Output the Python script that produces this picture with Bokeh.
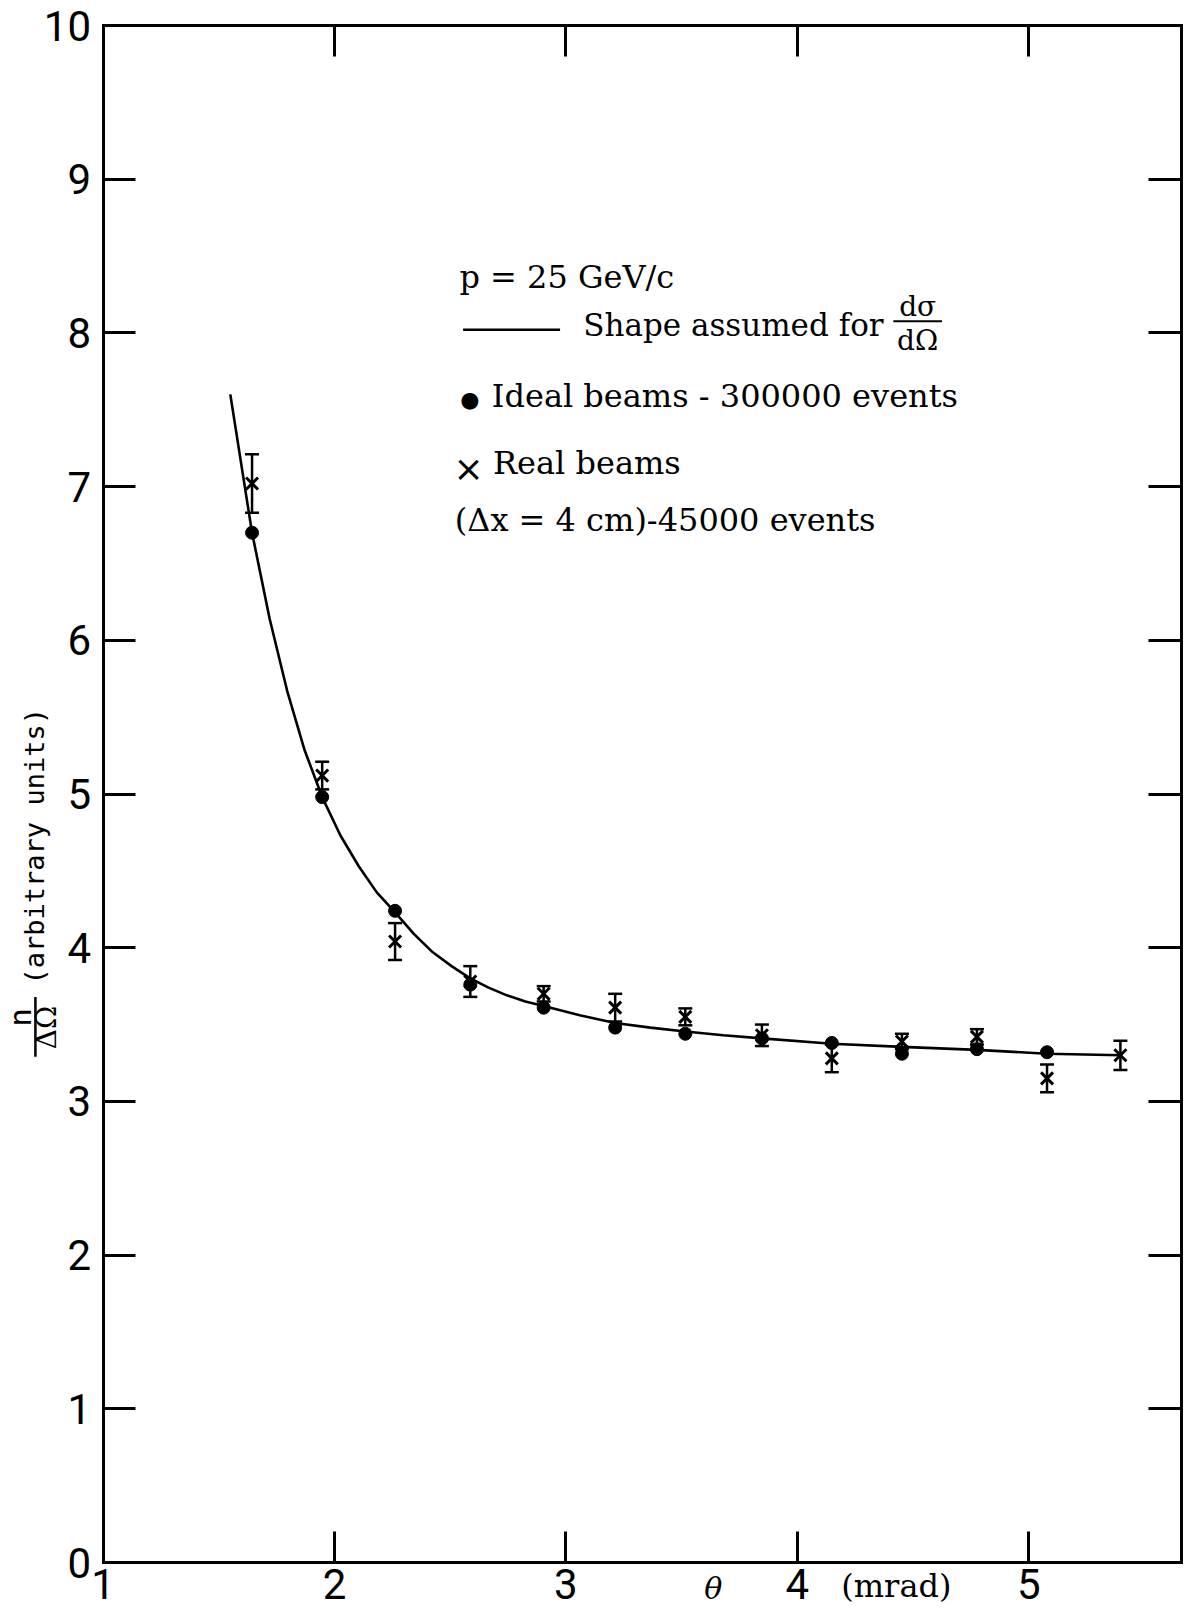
import math
from bokeh.plotting import figure
from bokeh.models import (Range1d, FixedTicker, LinearAxis, Label, Whisker,
                          ColumnDataSource, TeeHead, Arrow)
from bokeh.embed import file_html
from bokeh.resources import INLINE

# ---------------- data ----------------
theta_ideal = [1.644, 1.947, 2.262, 2.587, 2.904, 3.213, 3.516, 3.847, 4.149, 4.452, 4.776, 5.079]
n_ideal = [6.70, 4.98, 4.24, 3.76, 3.61, 3.48, 3.44, 3.41, 3.38, 3.31, 3.34, 3.32]

theta_real = [1.644, 1.947, 2.262, 2.587, 2.904, 3.213, 3.516, 3.847, 4.149, 4.452, 4.776, 5.079, 5.396]
n_real = [7.02, 5.12, 4.04, 3.78, 3.70, 3.61, 3.55, 3.43, 3.28, 3.39, 3.42, 3.15, 3.30]
n_real_err = [0.19, 0.09, 0.12, 0.10, 0.05, 0.09, 0.055, 0.07, 0.09, 0.05, 0.05, 0.09, 0.095]

theta_curve = [1.55, 1.644, 1.72, 1.796, 1.87, 1.947, 2.026, 2.105, 2.183, 2.262, 2.343,
               2.425, 2.506, 2.587, 2.666, 2.745, 2.825, 2.904, 3.06, 3.213, 3.365,
               3.516, 3.68, 3.847, 4.149, 4.452, 4.776, 5.079, 5.40]
n_curve = [7.60, 6.70, 6.14, 5.67, 5.29, 4.98, 4.73, 4.53, 4.36, 4.23, 4.09,
           3.97, 3.88, 3.80, 3.74, 3.69, 3.65, 3.62, 3.56, 3.51, 3.48,
           3.455, 3.43, 3.41, 3.375, 3.355, 3.335, 3.31, 3.30]

x_ticks = [1, 2, 3, 4, 5]
y_ticks = [0, 1, 2, 3, 4, 5, 6, 7, 8, 9, 10]
x_inner_ticks = [2, 3, 4, 5]
y_inner_ticks = [1, 2, 3, 4, 5, 6, 7, 8, 9]

legend_title = "p = 25 GeV/c"
legend_curve = "Shape assumed for"
legend_ideal = "Ideal beams - 300000 events"
legend_real = "Real beams"
legend_real2 = "(\u0394x = 4 cm)-45000 events"

SERIF = "DejaVu Serif"
MONO = "DejaVu Sans Mono"
SANS = "Roboto"

# ---------------- geometry ----------------
W, H = 1190, 1610
X_LO, X_HI = 1.0, 5.66          # visible box in data units
Y_LO, Y_HI = 0.0, 10.0
BOX_LEFT_PX = 102.5             # where x = 1 falls on the canvas
BOX_BOTTOM_PX = 1562            # where y = 0 falls on the canvas
BOX_TOP_PX = 25                 # where y = 10 falls on the canvas
RIGHT_BORDER = 9
px_per_x = (W - RIGHT_BORDER - BOX_LEFT_PX) / (X_HI - X_LO)
px_per_y = (BOX_BOTTOM_PX - BOX_TOP_PX) / (Y_HI - Y_LO)
x_start = X_LO - BOX_LEFT_PX / px_per_x
y_start = Y_LO - (H - BOX_BOTTOM_PX) / px_per_y
y_end = Y_HI + BOX_TOP_PX / px_per_y

p = figure(width=W, height=H,
           x_range=Range1d(x_start, X_HI), y_range=Range1d(y_start, y_end),
           output_backend="svg", toolbar_location=None,
           min_border_left=0, min_border_right=RIGHT_BORDER,
           min_border_top=0, min_border_bottom=0)

p.xgrid.visible = False
p.ygrid.visible = False
p.outline_line_color = None
p.background_fill_color = "white"
p.border_fill_color = "white"


def style_axis(ax, ticks, bounds, tick_len):
    ax.ticker = FixedTicker(ticks=ticks)
    ax.bounds = bounds
    ax.axis_line_color = "black"
    ax.axis_line_width = 3
    ax.axis_line_cap = "square"
    ax.major_tick_in = tick_len
    ax.major_tick_out = 0
    ax.major_tick_line_width = 3
    ax.major_tick_line_color = "black"
    ax.minor_tick_line_color = None
    ax.major_label_text_font = SANS
    ax.major_label_text_font_size = "42px"
    ax.major_label_text_color = "black"


xa = p.xaxis[0]
ya = p.yaxis[0]
style_axis(xa, x_ticks, (X_LO, X_HI), 31)
style_axis(ya, y_ticks, (Y_LO, Y_HI), 32)
xa.fixed_location = Y_LO
ya.fixed_location = X_LO
xa.major_label_standoff = 6
ya.major_label_standoff = 12

top_axis = LinearAxis(fixed_location=Y_HI)
right_axis = LinearAxis()
style_axis(top_axis, x_inner_ticks, (X_LO, X_HI), 31)
style_axis(right_axis, y_inner_ticks, (Y_LO, Y_HI), 33)
for ax, t in ((top_axis, x_inner_ticks), (right_axis, y_inner_ticks)):
    ax.major_label_standoff = 0
    ax.major_label_text_font_size = "0px"
    ax.major_label_overrides = {v: "" for v in t}
p.add_layout(top_axis, "above")
p.add_layout(right_axis, "right")

# curve
p.line(theta_curve, n_curve, line_color="black", line_width=2.6)

# real beams with error bars
src_real = ColumnDataSource(dict(
    x=theta_real, y=n_real,
    upper=[v + e for v, e in zip(n_real, n_real_err)],
    lower=[v - e for v, e in zip(n_real, n_real_err)]))
p.add_layout(Whisker(base="x", upper="upper", lower="lower", source=src_real,
                     line_color="black", line_width=2.5,
                     upper_head=TeeHead(size=14, line_width=2.5, line_color="black"),
                     lower_head=TeeHead(size=14, line_width=2.5, line_color="black")))
p.scatter("x", "y", source=src_real, marker="x", size=17, line_width=3, line_color="black")

# ideal beams
p.scatter(theta_ideal, n_ideal, marker="circle", size=13, fill_color="black", line_color="black")


# ---------------- free-text legend & titles ----------------
def lab(x, y, text, font=SERIF, size="32px", align="left", baseline="alphabetic",
        angle=0, style="normal"):
    p.add_layout(Label(x=x, y=y, text=text, text_font=font, text_font_size=size,
                       text_align=align, text_baseline=baseline, angle=angle,
                       text_color="black", text_font_style=style))


def rule(x0, y0, x1, y1, w=2.5):
    p.add_layout(Arrow(end=None, start=None, x_start=x0, y_start=y0, x_end=x1, y_end=y1,
                       line_color="black", line_width=w))


lab(2.54, 8.365, legend_title)
rule(2.556, 8.02, 2.975, 8.02)
lab(3.075, 8.05, legend_curve, size="31px")
lab(4.52, 8.17, "d\u03c3", size="28px", align="center")
rule(4.415, 8.075, 4.625, 8.075, w=2)
lab(4.52, 7.95, "d\u03a9", size="28px", align="center")
lab(2.585, 7.565, "\u25cf", font="DejaVu Sans", size="22px", align="center", baseline="middle")
lab(2.68, 7.59, legend_ideal)
lab(2.58, 7.12, "\u00d7", font="DejaVu Sans", size="36px", align="center", baseline="middle")
lab(2.685, 7.155, legend_real)
lab(2.52, 6.785, legend_real2)

# axis titles
lab(0.704, 4.66, "(arbitrary units)", font=MONO, size="27px", align="center",
    baseline="middle", angle=math.pi / 2)
lab(0.640, 3.546, "n", font=MONO, size="31px", align="center", baseline="middle",
    angle=math.pi / 2)
rule(0.708, 3.29, 0.708, 3.68, w=2.5)
lab(0.755, 3.481, "\u0394\u03a9", font=SERIF, size="28px", align="center", baseline="middle",
    angle=math.pi / 2)

lab(3.637, -0.17, "\u03b8", font=SERIF, size="30px", align="center", baseline="middle",
    style="italic")
lab(4.428, -0.15, "(mrad)", font=SERIF, size="32px", align="center", baseline="middle")

open("out.html", "w").write(file_html(p, INLINE))
